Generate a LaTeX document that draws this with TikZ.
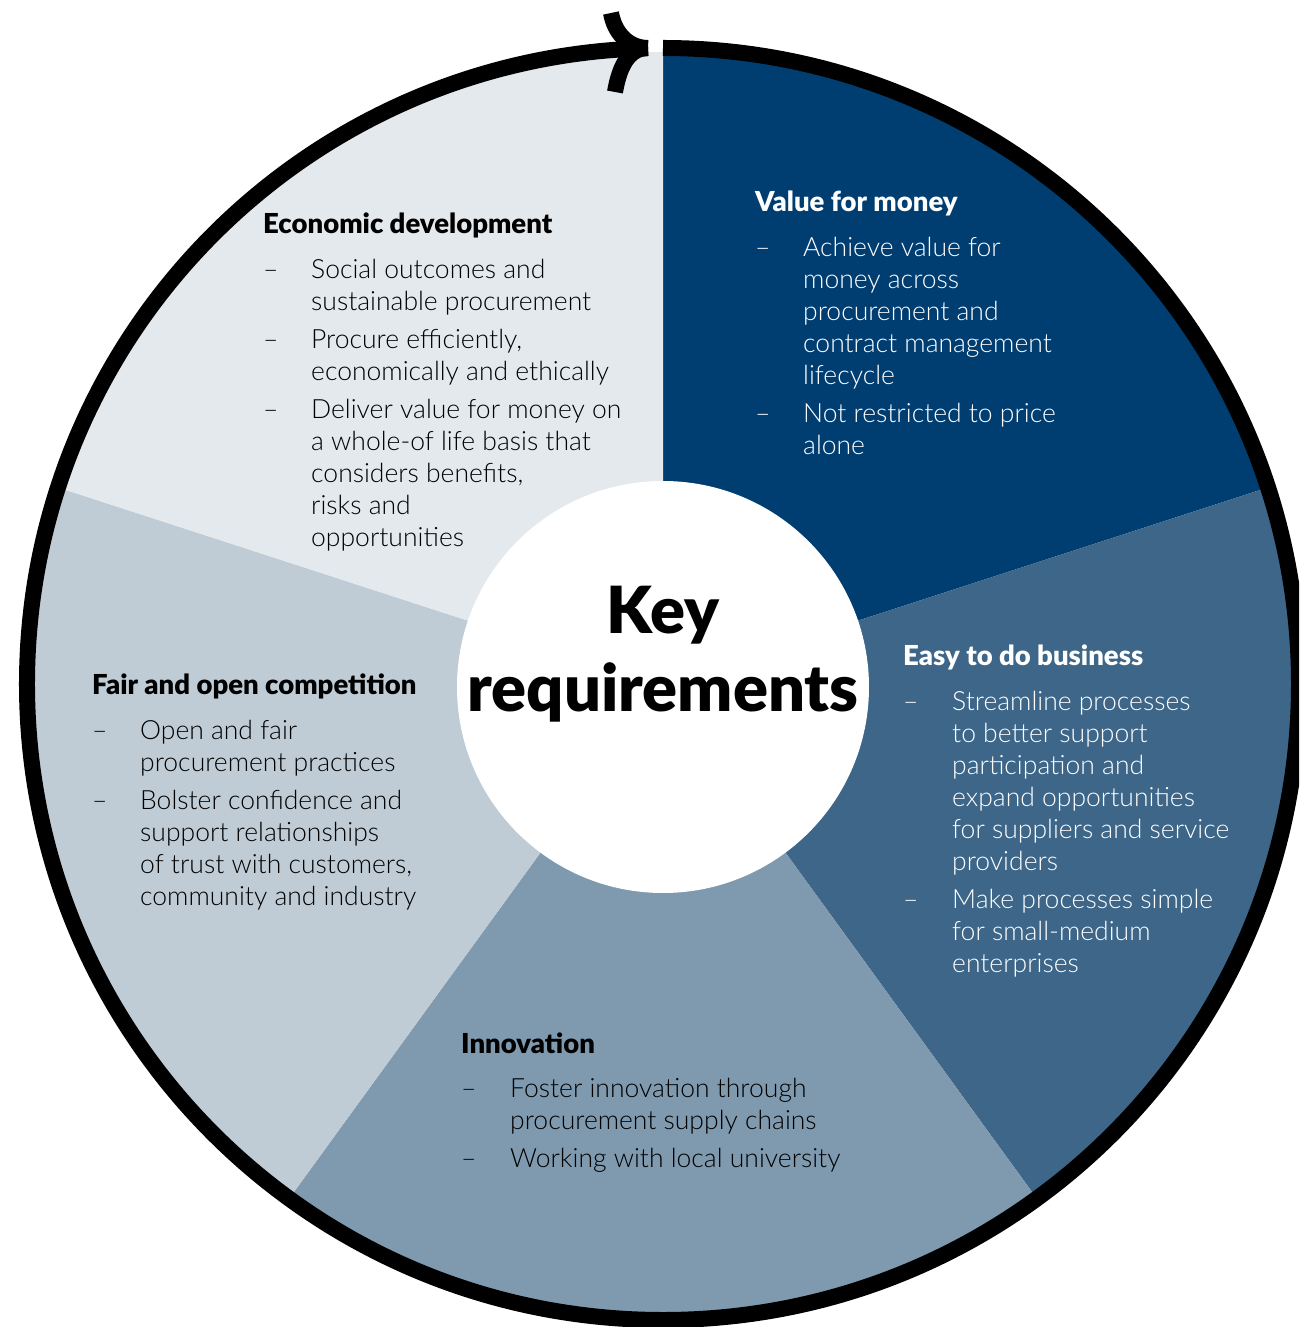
\documentclass[tikz,border=0pt]{standalone}
\usepackage{fontspec}
\setmainfont{Lato Light}[BoldFont={Lato Black}]
\usepackage{xcolor}
\usepackage{tikz}
\usetikzlibrary{positioning}

\definecolor{valuecol}{HTML}{003E72}
\definecolor{easycol}{HTML}{3D6688}
\definecolor{innovcol}{HTML}{7F9AAF}
\definecolor{faircol}{HTML}{BFCCD6}
\definecolor{econcol}{HTML}{E4E9EE}

\begin{document}
\begin{tikzpicture}[
    x=1pt, y=1pt,
    head/.style={anchor=base west, inner sep=0pt, text depth=0pt, font=\bfseries\fontsize{27.5}{32}\selectfont},
    body/.style={anchor=north west, inner sep=0pt, font=\fontsize{26.5}{32}\selectfont},
    hub/.style={circle, fill=white, minimum size=412pt, inner sep=0pt},
    hubtext/.style={align=center, inner sep=0pt, font=\bfseries\fontsize{65}{78}\selectfont},
    ring/.style={draw=black, line width=16pt, line cap=butt}
]

\useasboundingbox (-663,-643) rectangle (636,684);
\clip (-663,-643) rectangle (636,684);

% Sectors
\fill[valuecol] (0,0) -- (90:632) arc[start angle=90, end angle=18, radius=632] -- cycle;
\fill[easycol] (0,0) -- (18:632) arc[start angle=18, end angle=-54, radius=632] -- cycle;
\fill[innovcol] (0,0) -- (-54:632) arc[start angle=-54, end angle=-126, radius=632] -- cycle;
\fill[faircol] (0,0) -- (-126:632) arc[start angle=-126, end angle=-198, radius=632] -- cycle;
\fill[econcol] (0,0) -- (-198:632) arc[start angle=-198, end angle=-270, radius=632] -- cycle;

% Outer ring with the arrow head at the top
\coordinate (tip) at (-15,636);
\coordinate (barbtop) at (-52,671);
\coordinate (barbbot) at (-48,592);
\draw[ring] (90:636) arc[start angle=90, end angle=-268.65, radius=636];
\draw[ring] (barbtop) to[out=-80, in=180] (tip);
\draw[ring] (barbbot) to[out=80, in=180] (tip);

% Centre
\node[hub] (hub) at (0,-3) {};
\node[hubtext] (hubtitle) at (0,30) {Key\\requirements};

% Value for money
\node[head, text=white] (valuehead) at (92,472) {Value for money};
\node[below=21.6pt of valuehead.base west, body, text=white] (valuebody) {%
  \begin{tabular}{@{}p{48pt}@{}l@{}}
  -- & Achieve value for\\
     & money across\\
     & procurement and\\
     & contract management\\
     & lifecycle\\[6pt]
  -- & Not restricted to price\\
     & alone
  \end{tabular}};

% Easy to do business
\node[head, text=white] (easyhead) at (240,18) {Easy to do business};
\node[below=21.6pt of easyhead.base west, body, text=white] (easybody) {%
  \begin{tabular}{@{}p{49pt}@{}l@{}}
  -- & Streamline processes\\
     & to better support\\
     & participation and\\
     & expand opportunities\\
     & for suppliers and service\\
     & providers\\[6pt]
  -- & Make processes simple\\
     & for small-medium\\
     & enterprises
  \end{tabular}};

% Innovation
\node[head] (innovhead) at (-202,-369) {Innovation};
\node[below=21.6pt of innovhead.base west, body] (innovbody) {%
  \begin{tabular}{@{}p{49pt}@{}l@{}}
  -- & Foster innovation through\\
     & procurement supply chains\\[6pt]
  -- & Working with local university
  \end{tabular}};

% Fair and open competition
\node[head] (fairhead) at (-571,-11) {Fair and open competition};
\node[below=21.6pt of fairhead.base west, body] (fairbody) {%
  \begin{tabular}{@{}p{48pt}@{}l@{}}
  -- & Open and fair\\
     & procurement practices\\[6pt]
  -- & Bolster confidence and\\
     & support relationships\\
     & of trust with customers,\\
     & community and industry
  \end{tabular}};

% Economic development
\node[head] (econhead) at (-400,450) {Economic development};
\node[below=21.6pt of econhead.base west, body] (econbody) {%
  \begin{tabular}{@{}p{48pt}@{}l@{}}
  -- & Social outcomes and\\
     & sustainable procurement\\[6pt]
  -- & Procure efficiently,\\
     & economically and ethically\\[6pt]
  -- & Deliver value for money on\\
     & a whole-of life basis that\\
     & considers benefits,\\
     & risks and\\
     & opportunities
  \end{tabular}};

\end{tikzpicture}
\end{document}
